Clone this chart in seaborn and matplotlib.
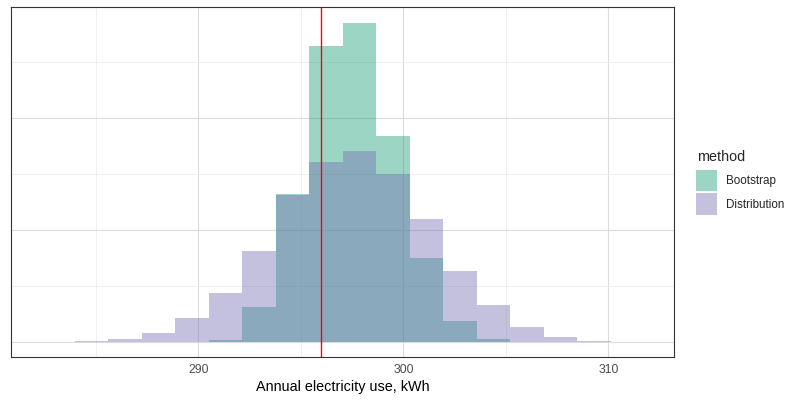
import numpy as np
import pandas as pd
import seaborn as sns
import matplotlib.pyplot as plt
from matplotlib.patches import Patch
from matplotlib.ticker import FixedLocator, NullFormatter

# histogram bins (kWh)
bin_edges = [282.34, 283.97, 285.61, 287.24, 288.88, 290.51, 292.15, 293.78,
             295.41, 297.05, 298.68, 300.32, 301.95, 303.59, 305.22, 306.86,
             308.49, 310.12, 311.76]

# counts per bin for each method
bootstrap_counts = [0, 0, 0, 0, 0, 18, 315, 1324, 2643, 2848, 1839, 753,
                    188, 27, 0, 0, 0, 0]
distribution_counts = [3, 9, 27, 83, 217, 440, 815, 1310, 1607, 1705, 1497,
                       1098, 634, 333, 134, 45, 9, 3]

methods = ["Bootstrap", "Distribution"]
observed_use = 296.0

mids = [(a + b) / 2 for a, b in zip(bin_edges[:-1], bin_edges[1:])]
df = pd.DataFrame({
    "kwh": mids * 2,
    "n": bootstrap_counts + distribution_counts,
    "method": [methods[0]] * len(mids) + [methods[1]] * len(mids),
})

sns.set_theme(style="white")
plt.rcParams["font.family"] = ["Liberation Sans", "DejaVu Sans"]

colors = {"Bootstrap": "#1B9E77", "Distribution": "#7570B3"}
alpha = 0.43

fig = plt.figure(figsize=(8, 4), dpi=100)
ax = fig.add_axes([11 / 800, 43 / 400, 663 / 800, 350 / 400])

for m in methods:
    sns.histplot(data=df[df.method == m], x="kwh", weights="n", bins=bin_edges,
                 color=colors[m], alpha=alpha, linewidth=0, ax=ax)

ax.axvline(observed_use, color="red", lw=1.0)

ax.set_xlim(280.86, 313.2)
ax.set_ylim(-134, 2991)

ax.xaxis.set_major_locator(FixedLocator([290, 300, 310]))
ax.xaxis.set_minor_locator(FixedLocator([285, 295, 305]))
ax.yaxis.set_major_locator(FixedLocator([0, 1000, 2000]))
ax.yaxis.set_minor_locator(FixedLocator([500, 1500, 2500]))
ax.yaxis.set_major_formatter(NullFormatter())
ax.set_axisbelow(True)
ax.grid(which="major", color="#dcdcdc", lw=0.8)
ax.grid(which="minor", color="#ededed", lw=0.6)
ax.tick_params(axis="x", which="major", length=2.5, width=0.7, color="#333333",
               labelsize=8.8, labelcolor="#4d4d4d", pad=2.5)
ax.tick_params(axis="x", which="minor", length=0)
ax.tick_params(axis="y", which="both", length=0)
for s in ax.spines.values():
    s.set_color("#333333")
    s.set_linewidth(0.8)

ax.set_ylabel("")
ax.set_xlabel("Annual electricity use, kWh", fontsize=10.4, color="black", labelpad=3)

# legend: title as separate text so the gap above the keys matches
fig.text(697 / 800, 1 - 157 / 400, "method", fontsize=10.4, ha="left", va="center")
handles = [Patch(facecolor=colors[m], alpha=alpha, edgecolor="none") for m in methods]
leg = fig.legend(handles, methods, loc="upper left",
                 bbox_to_anchor=(696 / 800, 1 - 170 / 400), frameon=False,
                 fontsize=8.4, handlelength=1.8,
                 handleheight=2.45, handletextpad=0.75, labelspacing=0.17,
                 borderpad=0, borderaxespad=0)

fig.savefig("out.png", dpi=100)
